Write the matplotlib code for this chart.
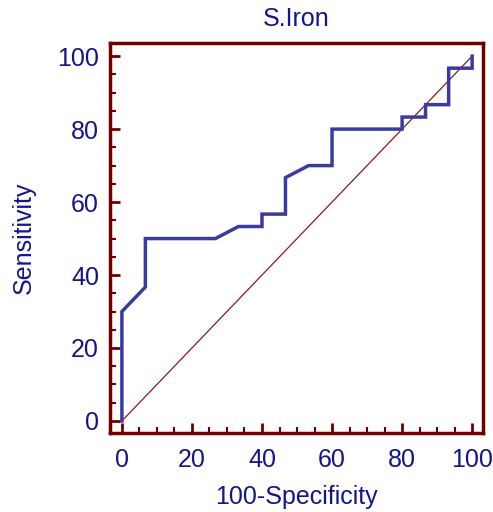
import matplotlib
matplotlib.use("Agg")
import matplotlib.pyplot as plt
from matplotlib.ticker import MultipleLocator

plt.rcParams['font.family'] = ['Liberation Sans', 'DejaVu Sans']

# ROC curve points (100-Specificity, Sensitivity)
fpr = [0, 0, 6.7, 6.7, 26.7, 33.3, 40, 40, 46.7, 46.7, 53.3, 60, 60,
       80, 80, 86.7, 86.7, 93.3, 93.3, 100, 100]
tpr = [0, 30, 36.7, 50, 50, 53.3, 53.3, 56.7, 56.7, 66.7, 70, 70, 80,
       80, 83.3, 83.3, 86.7, 86.7, 96.7, 96.7, 100]
diag = [0, 100]

text_col = '#14148c'
axis_col = '#700000'

fig = plt.figure(figsize=(4.93, 5.12), dpi=100)
ax = fig.add_axes([0.2231, 0.1543, 0.7566, 0.7617])

ax.plot(diag, diag, color='#8b1a1a', lw=0.9)
ax.plot(fpr, tpr, color='#3a3aa0', lw=2.5, solid_joinstyle='miter')

ax.set_xlim(-3.4, 103.1)
ax.set_ylim(-3.3, 103.6)

for s in ax.spines.values():
    s.set_color(axis_col)
    s.set_linewidth(2.5)

ax.xaxis.set_major_locator(MultipleLocator(20))
ax.xaxis.set_minor_locator(MultipleLocator(5))
ax.yaxis.set_major_locator(MultipleLocator(20))
ax.yaxis.set_minor_locator(MultipleLocator(5))
ax.tick_params(which='both', direction='in', color=axis_col, top=False, right=False)
ax.tick_params(which='major', length=7.5, width=2, labelsize=18, labelcolor=text_col)
ax.tick_params(axis='x', which='major', pad=11)
ax.tick_params(axis='y', which='major', pad=8)
ax.tick_params(which='minor', length=4, width=1.5)

ax.set_title('S.Iron', fontsize=18, color=text_col, pad=12)
ax.set_xlabel('100-Specificity', fontsize=18, color=text_col, labelpad=9)
ax.set_ylabel('Sensitivity', fontsize=18, color=text_col, labelpad=15)

fig.savefig('out.png', dpi=100)
